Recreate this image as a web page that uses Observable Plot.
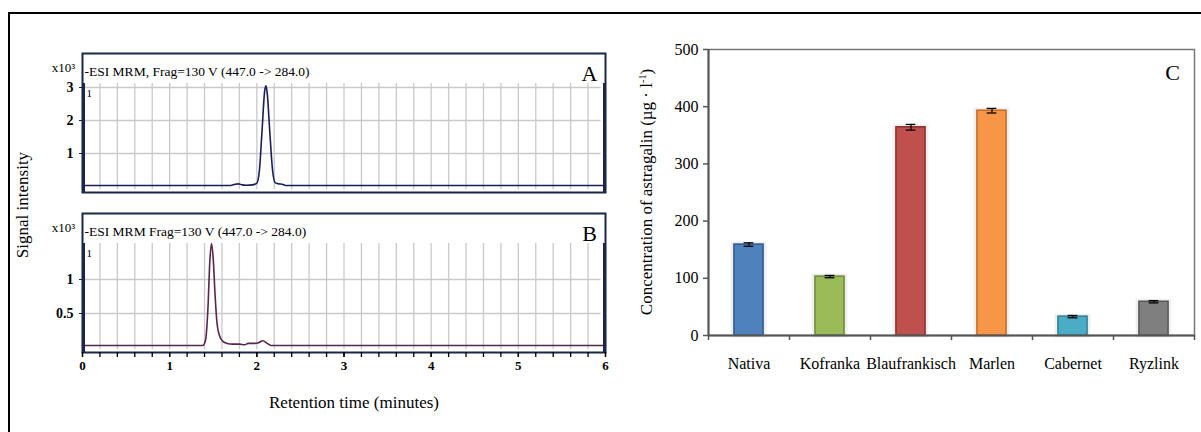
<!DOCTYPE html>
<html>
<head>
<meta charset="utf-8">
<script src="https://cdn.jsdelivr.net/npm/d3@7"></script>
<script src="https://cdn.jsdelivr.net/npm/@observablehq/plot@0.6"></script>
<style>
  html, body { margin: 0; padding: 0; background: #fff; }
  #wrap { position: relative; width: 1201px; height: 432px; overflow: hidden; background: #fff; font-family: "Liberation Serif", serif; }
  #wrap svg { position: absolute; left: 0; top: 0; }
  .outer { position: absolute; left: 8px; top: 12px; width: 1200px; height: 430px; border-left: 2px solid #000; border-top: 2px solid #000; }
  .title { position: absolute; white-space: nowrap; color: #000; font-family: "Liberation Serif", serif; }
  .rot { transform: translate(-50%, -50%) rotate(-90deg); }
  .hor { transform: translate(-50%, -50%); }
</style>
</head>
<body>
<div id="wrap">
  <div class="outer"></div>
</div>
<script>
// ---------- Data ----------
// Chromatogram A (retention time in minutes, signal ×10^3)
const timeA = [0, 1.70, 1.75, 1.79, 1.83, 1.88, 1.95, 2.00, 2.03, 2.06, 2.09, 2.105, 2.12, 2.15, 2.18, 2.21, 2.25, 2.29, 2.33, 6];
const signalA = [0.03, 0.03, 0.07, 0.08, 0.05, 0.04, 0.05, 0.10, 0.5, 1.7, 2.9, 3.05, 2.8, 1.6, 0.5, 0.12, 0.08, 0.07, 0.03, 0.03];
// Chromatogram B
const timeB = [0, 1.38, 1.41, 1.44, 1.46, 1.48, 1.50, 1.52, 1.54, 1.57, 1.61, 1.66, 1.72, 1.80, 1.86, 1.90, 1.97, 2.02, 2.07, 2.12, 2.16, 6];
const signalB = [0.03, 0.03, 0.10, 0.60, 1.25, 1.53, 1.30, 0.80, 0.40, 0.18, 0.09, 0.06, 0.05, 0.05, 0.04, 0.06, 0.06, 0.07, 0.10, 0.06, 0.03, 0.03];
const headerA = "-ESI MRM, Frag=130 V (447.0 -> 284.0)";
const headerB = "-ESI MRM Frag=130 V (447.0 -> 284.0)";
const yTicksA = [1, 2, 3];
const yTicksB = [0.5, 1];
const xTicks = [0, 1, 2, 3, 4, 5, 6];
const xMinorTicks = d3.range(0, 31).map(i => i / 5);

// Bar chart C
const cultivars = ["Nativa", "Kofranka", "Blaufrankisch", "Marlen", "Cabernet", "Ryzlink"];
const concentration = [159, 103, 364, 393, 33, 59];
const errors = [3, 2, 5, 4, 2, 2];
const barFill = ["#4f81bd", "#9bbb59", "#c0504d", "#f79646", "#4bacc6", "#7f7f7f"];
const barStroke = ["#2f5a8f", "#6f8a3a", "#8a2f2d", "#c46a22", "#2f7f96", "#555555"];
const yTicksC = [0, 100, 200, 300, 400, 500];

// ---------- Layout ----------
const W = 1201, H = 432;
const wrap = document.getElementById("wrap");
const navy = "#1b2748";
const grid = "#c9c9c9";
const font = "Liberation Serif";

function chromPanel({top, bottom, yDomain, gridTop, yTicks, times, signal, header, letter, lineColor, showX}) {
  const data = times.map((t, i) => ({t, v: signal[i]}));
  const marks = [
    Plot.ruleX(xMinorTicks.filter(d => d > 0 && d < 6), {y1: yDomain[0] + 0.02 * (yDomain[1]-yDomain[0]), y2: gridTop, stroke: grid, strokeWidth: 1.3}),
    Plot.ruleY(yTicks.filter(d => d < gridTop - 0.1), {x1: 0.02, x2: 5.95, stroke: grid, strokeWidth: 1.3}),
    Plot.line(data, {x: "t", y: "v", stroke: lineColor, strokeWidth: 1.6, curve: "monotone-x"}),
    Plot.frame({stroke: navy, strokeWidth: 2}),
    Plot.ruleX([6], {y1: yDomain[0], y2: gridTop, stroke: navy, strokeWidth: 3, dx: -1}),
    Plot.ruleX([0], {y1: yDomain[0], y2: gridTop, stroke: navy, strokeWidth: 3, dx: 1}),
    Plot.axisY(yTicks, {tickSize: 3, tickPadding: 6, fontSize: 14, fontWeight: "bold", label: null, tickFormat: d => String(d), stroke: "#222", fontFamily: font}),
    Plot.text([header], {frameAnchor: "top-left", dx: 2, dy: 18, textAnchor: "start", lineAnchor: "middle", fontSize: 13.5, fill: "#000"}),
    Plot.text(["1"], {frameAnchor: "top-left", dx: 4, dy: 40, textAnchor: "start", lineAnchor: "middle", fontSize: 11, fill: "#000"}),
    Plot.text([letter], {frameAnchor: "top-right", dx: -16, dy: 20, textAnchor: "middle", lineAnchor: "middle", fontSize: 22, fill: "#000"}),
    Plot.text(["x10³"], {frameAnchor: "top-left", dx: -19, dy: 14, textAnchor: "middle", lineAnchor: "middle", fontSize: 13, fill: "#000"})
  ];
  if (showX) {
    marks.push(Plot.axisX(xMinorTicks, {tickSize: 5, tickFormat: () => "", label: null, stroke: "#000", strokeWidth: 1.3}));
    marks.push(Plot.axisX(xTicks, {tickSize: 5, tickPadding: 3, fontSize: 13, fontWeight: "bold", label: null, stroke: "#000", strokeWidth: 1.3}));
  }
  return Plot.plot({
    width: W, height: H,
    marginLeft: 82, marginRight: W - 605, marginTop: top, marginBottom: H - bottom,
    x: {domain: [0, 6], axis: null},
    y: {domain: yDomain},
    style: {background: "transparent", fontFamily: font, overflow: "visible"},
    marks
  });
}

const panelA = chromPanel({
  top: 53, bottom: 192, yDomain: [-6/33, 133/33], gridTop: 103/33,
  yTicks: yTicksA, times: timeA, signal: signalA, header: headerA, letter: "A",
  lineColor: "#1a1d5c", showX: false
});
const panelB = chromPanel({
  top: 213, bottom: 352, yDomain: [-5/68, 134/68], gridTop: 104/68,
  yTicks: yTicksB, times: timeB, signal: signalB, header: headerB, letter: "B",
  lineColor: "#55264f", showX: true
});

const bars = cultivars.map((c, i) => ({c, i, v: concentration[i], e: errors[i], fill: barFill[i], stroke: barStroke[i]}));
const panelC = Plot.plot({
  width: W, height: H,
  marginLeft: 708, marginRight: W - 1194, marginTop: 49, marginBottom: H - 335,
  x: {domain: [0, 6], axis: null},
  y: {domain: [0, 500]},
  style: {background: "transparent", fontFamily: font, overflow: "visible"},
  marks: [
    Plot.rectY(bars, {x1: d => d.i + 0.31, x2: d => d.i + 0.69, y1: 0, y2: "v", fill: "none", stroke: "#efefef", strokeWidth: 5}),
    Plot.rectY(bars, {x1: d => d.i + 0.32, x2: d => d.i + 0.68, y1: 0, y2: "v", fill: d => d.fill, stroke: d => d.stroke, strokeWidth: 1.5}),
    Plot.ruleX(bars, {x: d => d.i + 0.5, y1: d => d.v - d.e, y2: d => d.v + d.e, stroke: "#000", strokeWidth: 1.2}),
    Plot.ruleY(bars, {y: d => d.v + d.e, x1: d => d.i + 0.44, x2: d => d.i + 0.56, stroke: "#000", strokeWidth: 1.3}),
    Plot.ruleY(bars, {y: d => d.v - d.e, x1: d => d.i + 0.44, x2: d => d.i + 0.56, stroke: "#000", strokeWidth: 1.3}),
    Plot.frame({stroke: "#777", strokeWidth: 1.5}),
    Plot.ruleX([0], {stroke: "#555", strokeWidth: 2}),
    Plot.ruleY([0], {stroke: "#555", strokeWidth: 2}),
    Plot.axisY(yTicksC, {tickSize: 5, tickPadding: 5, fontSize: 16, label: null, stroke: "#555", strokeWidth: 1.5}),
    Plot.axisX(xTicks, {tickSize: 5, tickFormat: () => "", label: null, stroke: "#555", strokeWidth: 1.5}),
    Plot.text(bars, {x: d => d.i + 0.5, y: 0, text: "c", dy: 28, fontSize: 16, fill: "#000", lineAnchor: "middle"}),
    Plot.text(["C"], {frameAnchor: "top-right", dx: -22, dy: 23, textAnchor: "middle", lineAnchor: "middle", fontSize: 22, fill: "#000"})
  ]
});

wrap.appendChild(panelC);
wrap.appendChild(panelA);
wrap.appendChild(panelB);

function addTitle(html, x, y, size, rot) {
  const d = document.createElement("div");
  d.className = "title " + (rot ? "rot" : "hor");
  d.style.left = x + "px";
  d.style.top = y + "px";
  d.style.fontSize = size + "px";
  d.innerHTML = html;
  wrap.appendChild(d);
}
addTitle("Signal intensity", 23, 205, 17, true);
addTitle("Retention time (minutes)", 354, 403, 17, false);
addTitle("Concentration of astragalin (µg · l<sup style=\"font-size:0.6em\">-1</sup>)", 647, 192, 17, true);
</script>
</body>
</html>
